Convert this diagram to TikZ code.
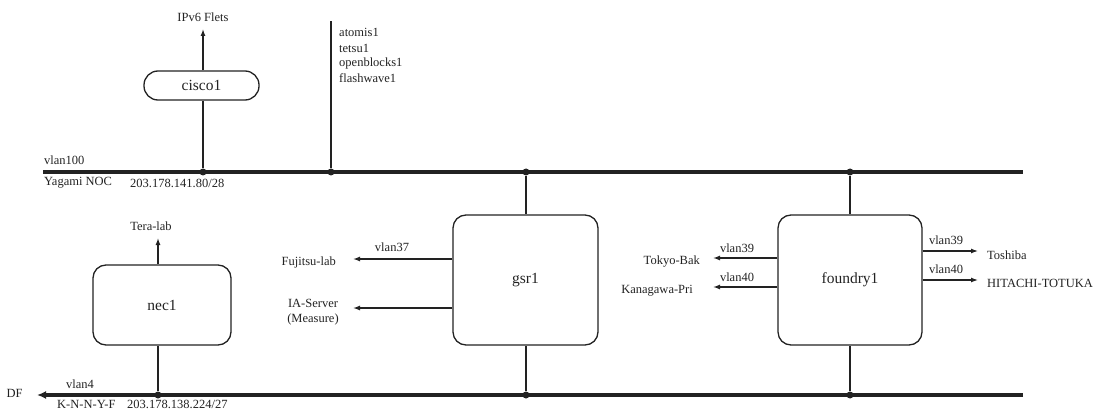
\documentclass[tikz,border=0pt]{standalone}
\usepackage{fontspec}
\setmainfont{Liberation Serif}
\usetikzlibrary{arrows.meta}
\definecolor{ink}{HTML}{222222}
\tikzset{
  router/.style={draw=ink, line width=1.3pt, rounded corners=13pt, inner sep=0pt,
                 font=\fontsize{15.5}{18}\selectfont, text=ink},
  lbl/.style={inner sep=0pt, font=\fontsize{12.5}{15}\selectfont, text=ink},
  bus/.style={draw=ink, line width=3.5pt},
  link/.style={draw=ink, line width=1.3pt},
  feed/.style={link, -{Latex[length=7pt,width=5pt]}},
  tap/.style={circle, fill=ink, inner sep=0pt, minimum size=7pt},
}
\begin{document}
\begin{tikzpicture}[x=1pt, y=-1pt]
\useasboundingbox (0,0) rectangle (1099,414);

% segment ends and junctions
\coordinate (topL) at (43,172);
\coordinate (topR) at (1023,172);
\coordinate (botL) at (37,395);
\coordinate (botR) at (1023,395);
\node[tap] (jCisco) at (203,172) {};
\node[tap] (jSrv)   at (331,172) {};
\node[tap] (jGsrT)  at (526,172) {};
\node[tap] (jFdyT)  at (850,172) {};
\node[tap] (jNec)   at (158,395) {};
\node[tap] (jGsrB)  at (526,395) {};
\node[tap] (jFdyB)  at (850,395) {};

% buses
\draw[bus] (topL) -- (topR);
\draw[bus, -{Latex[length=9pt,width=8pt]}] (botR) -- (botL);

% routers
\node[router, minimum width=115pt, minimum height=29pt, rounded corners=14pt] (cisco1) at (201.5,85.5) {cisco1};
\node[router, minimum width=138pt, minimum height=80pt] (nec1) at (162,305) {nec1};
\node[router, minimum width=145pt, minimum height=130pt] (gsr1) at (525.5,280) {gsr1};
\node[router, minimum width=144pt, minimum height=130pt] (foundry1) at (850,280) {foundry1};

% top segment labels
\node[lbl, anchor=west] (v100) at (44,160) {vlan100};
\node[lbl, anchor=west] (yagami) at (44,183) {Yagami NOC};
\node[lbl, anchor=west] (net100) at (130,183) {203.178.141.80/28};

% bottom segment labels
\node[lbl] (df) at (14.5,393) {DF};
\node[lbl, anchor=west] (v4) at (66,384) {vlan4};
\node[lbl, anchor=west] (knnyf) at (57,404) {K-N-N-Y-F};
\node[lbl, anchor=west] (net4) at (127,404) {203.178.138.224/27};

% cisco1 uplink
\node[lbl] (flets) at (203,17) {IPv6 Flets};
\coordinate (fletsTip) at (203,29);
\draw[link] (jCisco) -- (jCisco |- cisco1.south);
\draw[feed] (jCisco |- cisco1.north) -- (fletsTip);

% servers on vlan100
\coordinate (srvTop) at (331,21);
\draw[link] (jSrv) -- (srvTop);
\node[lbl, anchor=west] (atomis) at (339,32) {atomis1};
\node[lbl, anchor=west] (tetsu) at (339,48) {tetsu1};
\node[lbl, anchor=west] (openb) at (339,63) {openblocks1};
\node[lbl, anchor=west] (flashw) at (339,78) {flashwave1};

% nec1
\node[lbl] (tera) at (151,226) {Tera-lab};
\coordinate (teraTip) at (158,238);
\draw[link] (jNec) -- (jNec |- nec1.south);
\draw[feed] (jNec |- nec1.north) -- (teraTip);

% gsr1
\draw[link] (jGsrT) -- (gsr1.north -| jGsrT);
\draw[link] (jGsrB) -- (gsr1.south -| jGsrB);
\coordinate (fujTip) at (353,259);
\coordinate (iaTip) at (353,308);
\draw[feed] (gsr1.west |- fujTip) -- (fujTip);
\draw[feed] (gsr1.west |- iaTip) -- (iaTip);
\node[lbl] (v37) at (392,247) {vlan37};
\node[lbl, anchor=east] (fujitsu) at (336,262) {Fujitsu-lab};
\node[lbl, align=center] (ias) at (313,312.5) {IA-Server\\(Measure)};

% foundry1
\draw[link] (jFdyT) -- (foundry1.north);
\draw[link] (jFdyB) -- (foundry1.south);
\coordinate (tkyTip) at (713,258);
\coordinate (kngTip) at (713,287);
\draw[feed] (foundry1.west |- tkyTip) -- (tkyTip);
\draw[feed] (foundry1.west |- kngTip) -- (kngTip);
\node[lbl] (v39l) at (737,248) {vlan39};
\node[lbl] (v40l) at (737,277) {vlan40};
\node[lbl, anchor=east] (tokyo) at (700,262) {Tokyo-Bak};
\node[lbl, anchor=east] (kanagawa) at (693,291) {Kanagawa-Pri};

\coordinate (toshTip) at (978,251);
\coordinate (hitTip) at (978,280);
\draw[feed] (foundry1.east |- toshTip) -- (toshTip);
\draw[feed] (foundry1.east |- hitTip) -- (hitTip);
\node[lbl] (v39r) at (946,240) {vlan39};
\node[lbl] (v40r) at (946,269) {vlan40};
\node[lbl, anchor=west] (toshiba) at (987,255) {Toshiba};
\node[lbl, anchor=west] (hitachi) at (987,283) {HITACHI-TOTUKA};
\end{tikzpicture}
\end{document}
